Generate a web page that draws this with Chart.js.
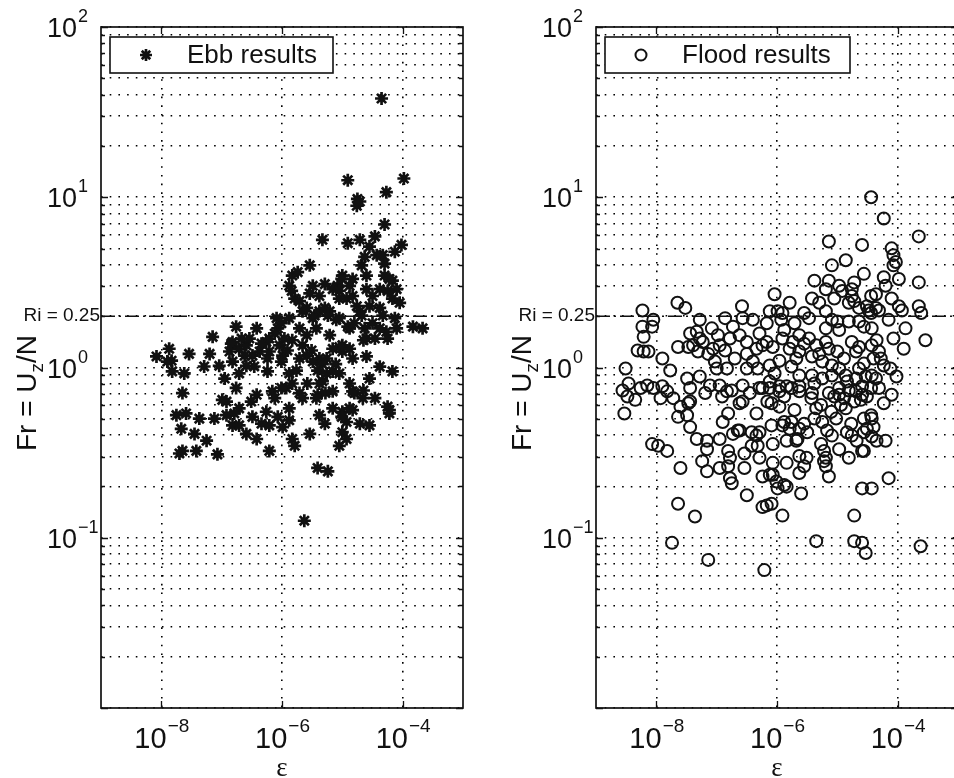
<!DOCTYPE html>
<html>
<head>
<meta charset="utf-8">
<script src="https://cdn.jsdelivr.net/npm/chart.js@4.4.0/dist/chart.umd.min.js"></script>
<style>
    html, body { margin: 0; padding: 0; background: #fff; overflow: hidden; width: 954px; height: 778px; }
    canvas { position: absolute; top: 0; }
    #ebbChart { left: 0; }
    #floodChart { left: 495px; }
</style>
</head>
<body>
<canvas id="ebbChart" width="495" height="778"></canvas>
<canvas id="floodChart" width="495" height="778"></canvas>
<script>
// axis limits and ticks
const epsRange = [1e-9, 1e-3];
const frRange = [1e-2, 1e2];
const epsTicks = [1e-8, 1e-6, 1e-4];
const epsTickLabels = ['\u22128', '\u22126', '\u22124'];
const frTicks = [1e-1, 1e0, 1e1, 1e2];
const frTickLabels = ['\u22121', '0', '1', '2'];
const frGrid = [0.01, 0.02, 0.03, 0.04, 0.05, 0.06, 0.07, 0.08, 0.09,
    0.1, 0.2, 0.3, 0.4, 0.5, 0.6, 0.7, 0.8, 0.9,
    1, 2, 3, 4, 5, 6, 7, 8, 9,
    10, 20, 30, 40, 50, 60, 70, 80, 90, 100];

// critical Froude number (Ri = 1/Fr^2 = 0.25)
const riFr = 2;
const riLabel = 'Ri = 0.25';

// ebb tide: log10(epsilon), log10(Fr)
const ebbLogEps = [
    -4.35, -4.91, -3.98, -4.27, -4.75, -4.76, -4.71, -4.30, -5.33, -4.91,
    -4.71, -4.46, -4.02, -4.13, -4.55, -4.43, -4.33, -5.54, -4.68, -5.00,
    -5.08, -4.83, -4.60, -4.30, -4.17, -4.10, -5.83, -5.88, -5.84, -5.79,
    -5.49, -5.38, -5.16, -5.05, -4.93, -4.83, -4.60, -4.50, -4.25, -4.17,
    -5.71, -5.59, -5.46, -5.38, -5.29, -5.21, -5.24, -4.76, -4.71, -4.68,
    -4.38, -4.33, -3.83, -3.67, -4.10, -4.27, -4.25, -4.50, -4.38, -4.60,
    -4.88, -5.05, -5.00, -5.49, -5.43, -6.09, -6.07, -5.21, -5.16, -5.26,
    -5.38, -5.11, -5.83, -5.66, -5.59, -6.76, -6.42, -7.15, -6.82, -6.87,
    -6.71, -6.59, -6.49, -6.37, -6.26, -6.21, -6.04, -5.99, -8.08, -7.87,
    -7.83, -7.82, -7.54, -7.20, -7.04, -6.59, -4.60, -4.38, -4.17, -4.83,
    -7.65, -7.75, -7.59, -7.37, -7.67, -7.70, -7.65, -7.42, -7.25, -7.07,
    -6.92, -6.82, -6.71, -6.71, -6.76, -6.92, -6.49, -6.42, -6.42, -6.26,
    -6.21, -6.21, -6.16, -5.99, -5.93, -5.83, -5.79, -5.88, -5.71, -5.38,
    -5.41, -5.33, -5.16, -5.00, -4.93, -5.00, -5.05, -4.93, -4.88, -4.80,
    -4.66, -4.55, -4.22, -5.41, -5.24, -5.63, -7.90, -6.84, -6.67, -6.62,
    -6.82, -6.21, -6.01, -5.96, -6.24, -6.01, -6.99, -6.51, -6.12, -6.01,
    -5.74, -5.66, -5.01, -5.05, -4.55, -4.22, -4.91, -5.59, -5.49, -5.33,
    -5.26, -5.16, -5.88, -5.83, -5.38, -5.28, -5.43, -5.00, -4.88, -5.10,
    -4.65, -4.83, -5.16, -5.01, -4.25, -4.22,
    -6.54, -6.34, -6.12, -5.91, -5.71, -5.76, -5.51, -5.41, -5.58, -5.66,
    -5.88, -6.07, -6.34, -6.59, -6.79, -7.12, -7.45, -5.54, -5.29, -4.83,
    -4.71, -4.65, -4.46, -5.05, -4.88, -4.55, -5.05, -4.80, -4.63, -4.46,
    -4.13, -4.05, -5.54, -5.29, -4.88, -4.38, -4.30, -4.63, -5.71, -5.88,
    -6.24, -6.46, -6.71, -6.95, -7.29, -7.62
];
const ebbLogFr = [
    1.58, 1.10, 1.11, 1.03, 0.99, 0.95, 0.975, 0.84, 0.75, 0.73,
    0.75, 0.77, 0.72, 0.68, 0.71, 0.66, 0.66, 0.60, 0.60, 0.54,
    0.48, 0.52, 0.54, 0.54, 0.51, 0.46, 0.54, 0.48, 0.45, 0.405,
    0.48, 0.42, 0.46, 0.45, 0.405, 0.42, 0.46, 0.42, 0.45, 0.405,
    0.39, 0.35, 0.305, 0.33, 0.35, 0.33, 0.305, 0.36, 0.33, 0.305,
    0.35, 0.305, 0.24, 0.23, 0.23, 0.21, 0.17, 0.26, 0.23, 0.17,
    0.23, 0.12, 0.094, 0.29, 0.23, 0.29, 0.23, 0.19, 0.11, 0.053,
    0.053, 0.02, 0.16, 0.13, 0.07, 0.24, 0.23, 0.18, 0.15, 0.094,
    0.11, 0.13, 0.07, 0.094, 0.15, 0.094, 0.13, 0.07, 0.065, 0.11,
    0.04, -0.023, 0.08, 0.08, 0.01, 0.01, 0.065, 0.005, -0.023, 0.053,
    -0.15, -0.28, -0.27, -0.30, -0.36, -0.505, -0.49, -0.49, -0.43, -0.51,
    -0.28, -0.34, -0.34, -0.24, -0.12, -0.20, -0.29, -0.42, -0.16, -0.26,
    -0.34, -0.49, -0.14, -0.35, -0.12, -0.42, -0.46, -0.31, -0.15, -0.28,
    -0.16, -0.08, -0.14, -0.26, -0.32, -0.38, -0.46, -0.42, -0.24, -0.15,
    -0.18, -0.34, -0.25, -0.59, -0.61, -0.90, 0.035, 0.14, 0.17, 0.07,
    0.035, 0.17, 0.26, 0.17, -0.023, 0.035, -0.19, -0.20, -0.18, -0.12,
    0.56, 0.33, 0.52, 0.405, 0.36, 0.52, 0.24, 0.19, 0.035, 0.02,
    -0.035, -0.023, -0.035, -0.094, -0.094, -0.15, -0.18, 0.13, 0.11, 0.28,
    0.16, -0.14, -0.24, -0.29, -0.23, -0.27,
    0.17, 0.14, 0.20, 0.10, 0.053, -0.018, 0.10, -0.018, -0.094, -0.18,
    -0.24, -0.29, -0.33, -0.39, -0.27, -0.30, -0.39, -0.39, -0.33, -0.25,
    -0.33, -0.135, -0.18, -0.035, -0.094, -0.065, 0.29, 0.26, 0.23, 0.17,
    0.29, 0.38, 0.435, 0.49, 0.48, 0.46, 0.61, 0.65, 0.23, 0.29,
    0.053, 0.006, -0.035, -0.065, 0.006, -0.035
];

// flood tide: log10(epsilon), log10(Fr)
const floodLogEps = [
    -4.44, -4.23, -3.65, -5.14, -4.59, -4.10, -4.07, -4.07, -4.03, -5.09,
    -4.86, -4.23, -4.20, -3.65, -5.38, -5.14, -5.19, -4.97, -4.92, -4.76,
    -4.76, -4.72, -4.81, -4.44, -4.36, -4.51, -4.36, -4.31, -4.44, -4.10,
    -3.98, -3.93, -3.65, -3.61, -3.87, -3.54, -6.04, -5.79, -5.42, -6.12,
    -5.99, -5.91, -6.58, -6.57, -7.65, -7.52, -8.23, -8.23, -8.05, -8.07,
    -8.21, -8.31, -8.21, -8.13, -7.90, -5.47, -5.19, -5.09, -5.00, -5.19,
    -4.97, -4.81, -4.64, -4.56, -4.43, -4.48, -6.40, -6.17, -5.93, -5.88,
    -7.33, -7.08, -6.98, -6.73, -7.39, -7.23, -7.06, -6.95, -6.78, -6.62,
    -6.50, -6.34, -6.24, -6.17, -6.07, -7.64, -7.47, -5.91, -5.74, -5.63,
    -5.47, -5.35, -5.19, -5.14, -5.00, -4.76, -4.64, -4.69, -4.43, -4.31,
    -4.35, -7.31, -7.14, -7.03, -6.50, -6.40, -6.50, -6.32, -6.12, -5.96,
    -5.76, -5.68, -5.63, -5.42, -5.25, -5.09, -4.97, -4.28, -4.23, -8.51,
    -7.77, -7.00, -6.83, -4.86, -4.69, -4.53, -4.43, -4.36, -4.12, -4.02,
    -5.63, -5.42, -5.25, -5.09, -6.12, -5.96, -5.76, -5.63, -7.49, -7.44,
    -7.11, -6.95, -6.57, -6.29, -8.56, -8.46, -8.15, -8.05, -7.90, -7.82,
    -4.97, -4.81, -4.59, -8.48, -8.35, -8.53, -7.72, -7.60, -7.64, -7.49,
    -7.47, -7.44, -8.07, -7.97, -7.82, -7.60, -7.33, -7.16, -7.16, -7.24,
    -7.16, -6.91, -6.83, -6.75, -6.81, -6.90, -6.95, -6.73, -6.81, -6.78,
    -6.81, -6.78, -6.75, -6.62, -6.57, -6.62, -6.54, -6.50, -6.34, -6.42,
    -6.34, -6.32, -6.24, -6.12, -6.09, -5.96, -5.96, -5.84, -6.09, -6.07,
    -6.07, -6.07, -6.01, -5.99, -6.24, -6.17, -6.09, -5.91, -5.88, -5.79,
    -5.84, -5.84, -5.84, -5.91, -5.63, -5.63, -5.68, -5.63, -5.55, -5.50,
    -5.60, -5.42, -5.35, -5.27, -5.38, -5.25, -5.17, -5.27, -5.22, -5.19,
    -5.19, -5.35, -5.09, -5.02, -5.05, -4.97, -4.94, -4.89, -4.86, -4.84,
    -4.76, -4.68, -4.59, -4.72, -4.72, -4.59, -4.53, -4.59, -4.43, -4.56,
    -4.51, -4.43, -4.40, -4.43, -4.35, -4.20, -4.69, -4.59, -4.51, -4.44,
    -4.10, -4.15, -3.62, -7.74, -7.14, -6.21, -7.64, -7.36, -6.24, -7.44,
    -6.65, -6.29, -6.42, -6.12, -5.22, -5.51, -4.56, -4.56, -4.77, -5.10,
    -5.66, -5.76, -5.43, -4.72, -4.61, -4.44, -6.16, -5.88,
    -7.28, -6.86, -6.70, -5.79, -5.55, -5.30, -4.89, -4.56, -4.40, -4.64,
    -5.38, -5.14, -4.84, -4.31, -4.23, -6.04, -5.88, -6.45, -7.19, -7.28,
    -7.93, -8.26, -5.71, -5.55, -6.29, -6.86, -7.28, -7.44, -4.64, -4.15,
    -4.07, -3.90, -5.05, -5.30, -4.72, -4.56, -3.98, -5.71, -5.55, -4.97,
    -4.81, -5.14, -5.63, -6.29, -6.95, -6.54
];
const floodLogFr = [
    1.00, 0.875, 0.77, 0.74, 0.72, 0.70, 0.66, 0.60, 0.62, 0.60,
    0.63, 0.53, 0.48, 0.50, 0.51, 0.51, 0.46, 0.48, 0.45, 0.46,
    0.42, 0.39, 0.38, 0.42, 0.43, 0.36, 0.35, 0.335, 0.32, 0.405,
    0.36, 0.335, 0.36, 0.32, 0.23, 0.16, 0.43, 0.38, 0.405, 0.33,
    0.33, 0.32, 0.36, 0.29, 0.38, 0.35, 0.335, 0.24, 0.28, 0.24,
    0.18, 0.10, 0.094, 0.094, 0.053, 0.29, 0.33, 0.28, 0.27, 0.23,
    0.22, 0.27, 0.27, 0.24, 0.23, 0.335, 0.28, 0.26, 0.28, 0.22,
    0.21, 0.23, 0.19, 0.24, 0.13, 0.15, 0.11, 0.13, 0.17, 0.19,
    0.15, 0.11, 0.13, 0.15, 0.12, 0.12, 0.12, 0.17, 0.15, 0.19,
    0.17, 0.13, 0.15, 0.11, 0.094, 0.15, 0.12, 0.094, 0.13, 0.094,
    0.16, 0.094, 0.08, 0.035, 0.08, 0.035, -0.006, -0.006, 0.012, 0.04,
    0.006, 0.053, 0.094, 0.065, 0.035, 0.012, -0.006, 0.053, 0.012, -0.006,
    -0.018, -0.006, -0.006, -0.047, -0.065, -0.053, -0.047, -0.065, -0.006, -0.053,
    -0.047, -0.047, -0.065, -0.047, -0.082, -0.11, -0.12, -0.11, -0.065, -0.12,
    -0.106, -0.106, -0.106, -0.12, -0.135, -0.094, -0.106, -0.12, -0.11, -0.14,
    -0.12, -0.135, -0.11, -0.17, -0.19, -0.27, -0.18, -0.23, -0.29, -0.28,
    -0.21, -0.35, -0.45, -0.46, -0.49, -0.59, -0.42, -0.43, -0.48, -0.55,
    -0.61, -0.17, -0.14, -0.135, -0.27, -0.32, -0.42, -0.39, -0.49, -0.53,
    -0.58, -0.65, -0.68, -0.21, -0.20, -0.37, -0.505, -0.75, -0.27, -0.38,
    -0.40, -0.46, -0.12, -0.12, -0.21, -0.23, -0.14, -0.11, -0.34, -0.45,
    -0.56, -0.63, -0.67, -0.71, -0.64, -0.81, -0.80, -0.34, -0.32, -0.36,
    -0.43, -0.56, -0.70, -0.87, -0.14, -0.36, -0.43, -0.52, -0.58, -0.38,
    -0.74, -0.15, -0.24, -0.22, -0.30, -0.32, -0.37, -0.45, -0.49, -0.53,
    -0.58, -1.02, -0.40, -0.30, -0.17, -0.16, -0.22, -0.18, -0.24, -0.38,
    -0.40, -0.43, -0.49, -0.87, -1.02, -1.03, -1.09, -0.71, -0.71, -0.30,
    -0.36, -0.30, -0.35, -0.405, -0.43, -0.43, -0.14, -0.16, -0.17, -0.12,
    -0.16, -0.65, -1.05, -1.03, -1.13, -1.19, -0.80, -0.875, -0.82, -0.20,
    -0.37, -0.38, -0.46, -0.63, -0.55, -0.53, -0.49, -0.38, -0.33, -0.26,
    -0.42, -0.32, -0.18, -0.20, -0.19, -0.28, -0.20, -0.69,
    0.17, 0.10, 0.053, 0.11, 0.14, 0.08, 0.053, 0.023, 0.053, -0.006,
    -0.094, -0.15, -0.082, -0.12, -0.21, -0.035, -0.17, -0.15, -0.15, -0.053,
    -0.18, -0.12, 0.26, 0.32, 0.20, 0.29, 0.28, 0.20, 0.35, 0.28,
    0.17, 0.11, 0.405, 0.38, 0.50, 0.55, 0.52, -0.25, -0.33, -0.48,
    -0.53, -0.64, -0.62, -0.53, -0.59, -0.59
];

const INK = '#111';
const SANS = '"Liberation Sans", Arial, Helvetica, sans-serif';
const SERIF = '"Liberation Serif", "Times New Roman", serif';

function toPoints(logX, logY) {
    return logX.map((lx, i) => ({x: Math.pow(10, lx), y: Math.pow(10, logY[i])}));
}

// "10" with a raised exponent
function powerText(ctx, exp, x, y, align, size) {
    const expSize = Math.round(size * 0.66);
    ctx.font = `${size}px ${SANS}`;
    const wb = ctx.measureText('10').width;
    ctx.font = `${expSize}px ${SANS}`;
    const we = ctx.measureText(exp).width;
    const left = align === 'center' ? x - (wb + we) / 2 : x;
    ctx.textAlign = 'left';
    ctx.textBaseline = 'alphabetic';
    ctx.font = `${size}px ${SANS}`;
    ctx.fillText('10', left, y);
    ctx.font = `${expSize}px ${SANS}`;
    ctx.fillText(exp, left + wb + 1, y - size * 0.55);
}

// box, inward ticks, tick labels, titles, Ri label and legend
const axesDecor = {
    id: 'axesDecor',
    afterDraw(chart, args, opts) {
        const {ctx, chartArea: a} = chart;
        const xs = chart.scales.x, ys = chart.scales.y;
        ctx.save();
        ctx.strokeStyle = INK;
        ctx.fillStyle = INK;

        ctx.lineWidth = 1.7;
        ctx.strokeRect(a.left, a.top, a.right - a.left, a.bottom - a.top);

        ctx.lineWidth = 1.3;
        ctx.beginPath();
        epsTicks.forEach(v => {
            const px = Math.round(xs.getPixelForValue(v)) + 0.5;
            ctx.moveTo(px, a.bottom); ctx.lineTo(px, a.bottom - 7);
            ctx.moveTo(px, a.top); ctx.lineTo(px, a.top + 7);
        });
        frGrid.forEach(v => {
            const py = Math.round(ys.getPixelForValue(v)) + 0.5;
            const len = frTicks.includes(v) || v === 0.01 ? 7 : 4;
            ctx.moveTo(a.left, py); ctx.lineTo(a.left + len, py);
            ctx.moveTo(a.right, py); ctx.lineTo(a.right - len, py);
        });
        ctx.stroke();

        epsTicks.forEach((v, i) => {
            powerText(ctx, epsTickLabels[i], xs.getPixelForValue(v), a.bottom + 40, 'center', 29);
        });
        frTicks.forEach((v, i) => {
            powerText(ctx, frTickLabels[i], a.left - 54, ys.getPixelForValue(v) + 10, 'left', 27);
        });

        // Ri = 0.25 marker text
        ctx.font = `19px ${SANS}`;
        ctx.textAlign = 'right';
        ctx.textBaseline = 'middle';
        ctx.fillText(riLabel, a.left - 1, ys.getPixelForValue(riFr));

        // x title
        ctx.font = `27px ${SERIF}`;
        ctx.textAlign = 'center';
        ctx.textBaseline = 'alphabetic';
        ctx.fillText('\u03b5', (a.left + a.right) / 2, 776);

        // y title, rotated, with subscript z
        ctx.save();
        ctx.translate(36, 393);
        ctx.rotate(-Math.PI / 2);
        ctx.textAlign = 'left';
        ctx.font = `28px ${SANS}`;
        const part1 = 'Fr = U', part2 = 'z', part3 = '/N';
        const w1 = ctx.measureText(part1).width;
        const w3 = ctx.measureText(part3).width;
        ctx.font = `19px ${SANS}`;
        const w2 = ctx.measureText(part2).width;
        const tx = -(w1 + w2 + w3) / 2;
        ctx.font = `28px ${SANS}`;
        ctx.fillText(part1, tx, 0);
        ctx.font = `19px ${SANS}`;
        ctx.fillText(part2, tx + w1, 7);
        ctx.font = `28px ${SANS}`;
        ctx.fillText(part3, tx + w1 + w2, 0);
        ctx.restore();

        // legend box
        const lx = a.left + 9, ly = a.top + 10, lw = opts.boxWidth, lh = 36;
        ctx.fillStyle = '#fff';
        ctx.fillRect(lx, ly, lw, lh);
        ctx.lineWidth = 1.6;
        ctx.strokeRect(lx, ly, lw, lh);
        const ds = chart.data.datasets[0];
        ctx.strokeStyle = INK;
        ctx.fillStyle = 'rgba(0,0,0,0)';
        ctx.lineWidth = ds.borderWidth;
        Chart.helpers.drawPoint(ctx, {
            pointStyle: ds.pointStyle, radius: ds.pointRadius - 0.5, borderWidth: ds.borderWidth, rotation: 0
        }, lx + 36, ly + lh / 2);
        ctx.fillStyle = INK;
        ctx.font = `26px ${SANS}`;
        ctx.textAlign = 'left';
        ctx.textBaseline = 'middle';
        ctx.fillText(opts.label, lx + 77, ly + lh / 2 + 1);
        ctx.restore();
    }
};

function makeChart(canvasId, points, style, label, boxWidth) {
    return new Chart(document.getElementById(canvasId), {
        type: 'scatter',
        data: {
            datasets: [{
                data: points,
                pointStyle: style,
                pointRadius: style === 'star' ? 6.5 : 6,
                borderWidth: style === 'star' ? 2.7 : 2,
                borderColor: INK,
                backgroundColor: 'rgba(0,0,0,0)'
            }, {
                type: 'line',
                data: [{x: epsRange[0], y: riFr}, {x: epsRange[1], y: riFr}],
                borderColor: INK,
                borderWidth: 1.5,
                borderDash: [14, 4, 2, 4],
                pointRadius: 0
            }]
        },
        options: {
            responsive: false,
            animation: false,
            events: [],
            layout: {padding: {left: 101, right: 32, top: 27, bottom: 70}},
            plugins: {
                legend: {display: false},
                tooltip: {enabled: false},
                axesDecor: {label: label, boxWidth: boxWidth}
            },
            scales: {
                x: {
                    type: 'logarithmic',
                    min: epsRange[0],
                    max: epsRange[1],
                    afterBuildTicks: s => { s.ticks = epsTicks.map(v => ({value: v})); },
                    ticks: {display: false},
                    grid: {color: '#000', lineWidth: 1.6, drawTicks: false},
                    border: {display: false, dash: [1.6, 7.1]}
                },
                y: {
                    type: 'logarithmic',
                    min: frRange[0],
                    max: frRange[1],
                    afterBuildTicks: s => { s.ticks = frGrid.map(v => ({value: v})); },
                    ticks: {display: false},
                    grid: {color: '#000', lineWidth: 1.6, drawTicks: false},
                    border: {display: false, dash: [1.6, 7.1]}
                }
            }
        },
        plugins: [axesDecor]
    });
}

makeChart('ebbChart', toPoints(ebbLogEps, ebbLogFr), 'star', 'Ebb results', 223);
makeChart('floodChart', toPoints(floodLogEps, floodLogFr), 'circle', 'Flood results', 245);
</script>
</body>
</html>
